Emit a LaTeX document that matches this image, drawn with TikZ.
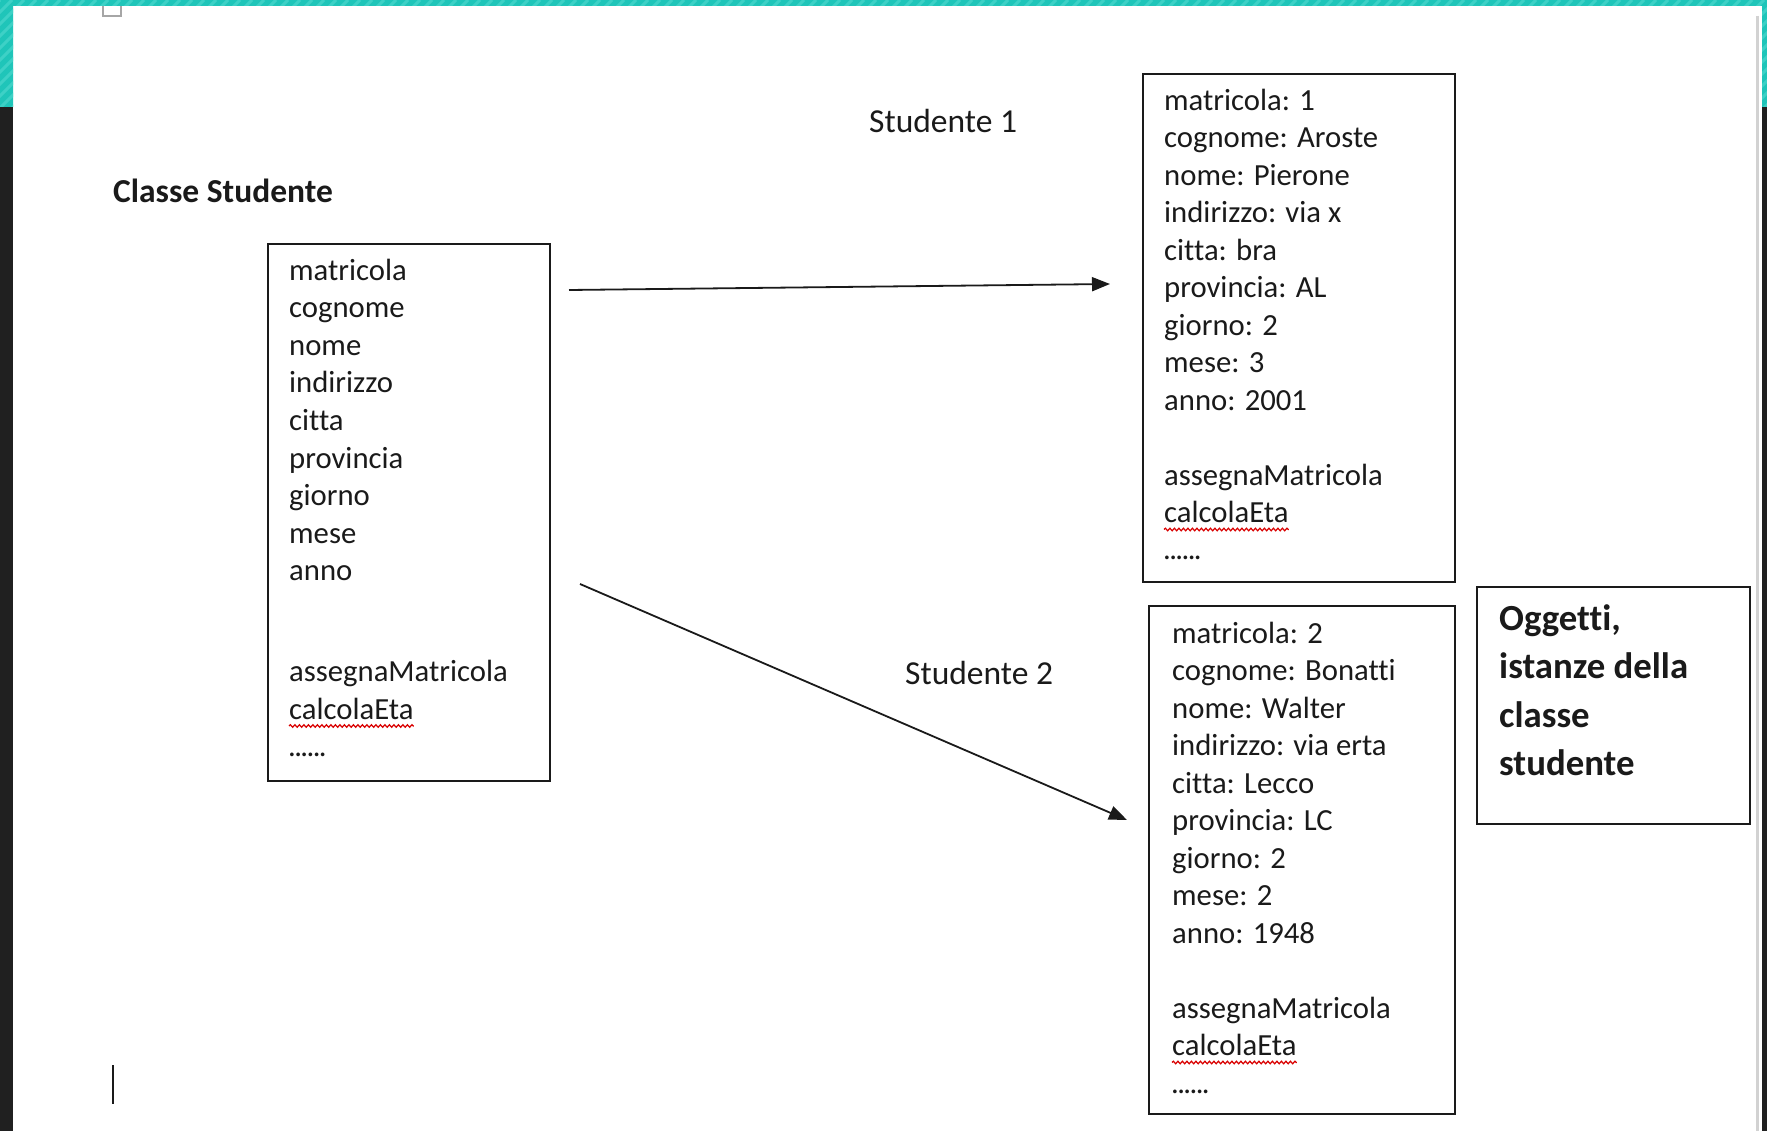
\documentclass[tikz,border=0pt]{standalone}
\usepackage{fontspec}
\setmainfont[Ligatures=NoCommon]{Carlito}
\usetikzlibrary{arrows.meta,decorations.pathmorphing}
\definecolor{tealA}{HTML}{1FC5B9}
\definecolor{tealB}{HTML}{3DD1C6}
\definecolor{darkbar}{HTML}{202020}
\definecolor{ink}{HTML}{1A1A1A}
\begin{document}
\begin{tikzpicture}[x=1pt,y=-1pt,
  txt/.style={anchor=base west,inner sep=0pt,text=ink,font=\fontsize{30.7}{37.5}\selectfont},
  lbltxt/.style={txt,font=\fontsize{33.5}{40}\selectfont},
  btxt/.style={txt,font=\fontsize{33.5}{40}\selectfont\bfseries},
  bigtxt/.style={txt,font=\fontsize{36.8}{48}\selectfont\bfseries},
  frame/.style={draw=ink,line width=2pt,anchor=north west,inner sep=0pt},
  conn/.style={line width=1.8pt,draw=ink,-{Triangle[length=18pt,width=14pt]}},
  wavy/.style={draw=red!85!black,line width=1.2pt,decorate,decoration={snake,amplitude=1.3pt,segment length=4.5pt}}]
\useasboundingbox (0,0) rectangle (1767,1131);
\fill[white] (0,0) rectangle (1767,1131);
% window frame
\draw[gray!70,line width=1.5pt] (103,-2) rectangle (121,16);
\fill[darkbar] (0,107) rectangle (13,1131);
\fill[darkbar] (1762,107) rectangle (1767,1131);
\begin{scope}
  \clip (0,0) rectangle (1767,6) (0,0) rectangle (13,107) (1762,0) rectangle (1767,107);
  \fill[tealA] (0,0) rectangle (1767,107);
  \foreach \i in {0,12,...,1880} \draw[tealB,line width=3pt] (\i,0) -- ++(-110,110);
\end{scope}
\draw[gray!35,line width=3pt] (1757,16) -- (1757,1131);

% title
\node[btxt] (title) at (113,203) {Classe Studente};

% class box
\node[frame,minimum width=282pt,minimum height=537pt] (cls) at (267,243) {};
\foreach \t [count=\i from 0] in {matricola,cognome,nome,indirizzo,citta,provincia,giorno,mese,anno}
  \node[txt] (cls-\i) at (289,{280.5+37.5*\i}) {\t};
\node[txt] (cls-m1) at (289,681) {assegnaMatricola};
\node[txt] (cls-m2) at (289,719) {calcolaEta};
\node[txt] (cls-d) at (289,756) {\kern-1pt.\kern-1.6pt.\kern-1.6pt.\kern-1.6pt.\kern-1.6pt.\kern-1.6pt.};
\draw[wavy] ([yshift=-7pt]cls-m2.base west) -- ([yshift=-7pt]cls-m2.base east);

% object 1
\node[frame,minimum width=312pt,minimum height=508pt] (ob1) at (1142,73) {};
\foreach \t [count=\i from 0] in {matricola: 1,cognome: Aroste,nome: Pierone,indirizzo: via x,citta: bra,provincia: AL,giorno: 2,mese: 3,anno: 2001}
  \node[txt] (ob1-\i) at (1164,{110.5+37.5*\i}) {\t};
\node[txt] (ob1-m1) at (1164,485) {assegnaMatricola};
\node[txt] (ob1-m2) at (1164,522.5) {calcolaEta};
\node[txt] (ob1-d) at (1164,559) {\kern-1pt.\kern-1.6pt.\kern-1.6pt.\kern-1.6pt.\kern-1.6pt.\kern-1.6pt.};
\draw[wavy] ([yshift=-7pt]ob1-m2.base west) -- ([yshift=-7pt]ob1-m2.base east);

% object 2
\node[frame,minimum width=306pt,minimum height=508pt] (ob2) at (1148,605) {};
\foreach \t [count=\i from 0] in {matricola: 2,cognome: Bonatti,nome: Walter,indirizzo: via erta,citta: Lecco,provincia: LC,giorno: 2,mese: 2,anno: 1948}
  \node[txt] (ob2-\i) at (1172,{643+37.5*\i}) {\t};
\node[txt] (ob2-m1) at (1172,1018) {assegnaMatricola};
\node[txt] (ob2-m2) at (1172,1055.5) {calcolaEta};
\node[txt] (ob2-d) at (1172,1093) {\kern-1pt.\kern-1.6pt.\kern-1.6pt.\kern-1.6pt.\kern-1.6pt.\kern-1.6pt.};
\draw[wavy] ([yshift=-7pt]ob2-m2.base west) -- ([yshift=-7pt]ob2-m2.base east);

% note box
\node[frame,minimum width=273pt,minimum height=237pt] (note) at (1476,586) {};
\node[bigtxt] (n1) at (1499,630) {Oggetti,};
\node[bigtxt] (n2) at (1499,678) {istanze della};
\node[bigtxt] (n3) at (1499,727) {classe};
\node[bigtxt] (n4) at (1499,775) {studente};

% labels
\node[lbltxt] (s1) at (869,133) {Studente 1};
\node[lbltxt] (s2) at (905,684) {Studente 2};

% connectors
\coordinate (a1s) at (569,290);
\coordinate (a1e) at (1110,284);
\coordinate (a2s) at (580,584);
\coordinate (a2e) at (1127,820);
\draw[conn] (a1s) -- (a1e);
\draw[conn] (a2s) -- (a2e);

% text cursor
\draw[ink,line width=2pt] (113,1065) -- (113,1104);
\end{tikzpicture}
\end{document}
